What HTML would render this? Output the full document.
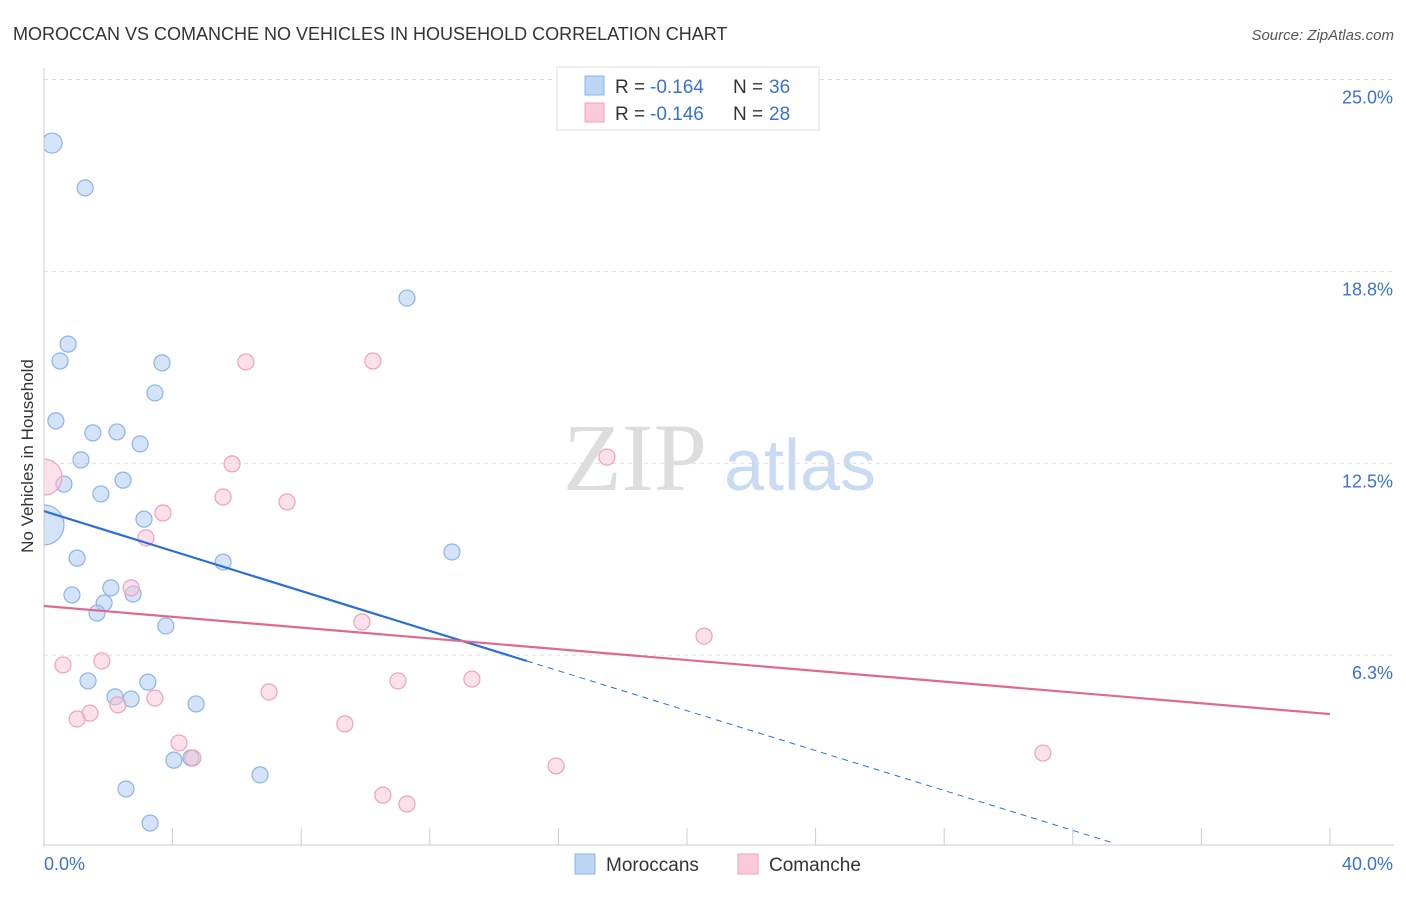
<!DOCTYPE html>
<html><head><meta charset="utf-8"><style>
body{margin:0;background:#fff;font-family:"Liberation Sans",sans-serif;}
</style></head><body>
<svg width="1406" height="892" xmlns="http://www.w3.org/2000/svg" id="chart" font-family="Liberation Sans, sans-serif">
<defs><clipPath id="plotclip"><rect x="44" y="60" width="1360" height="790"/></clipPath></defs>
<text x="13" y="40" font-size="18" fill="#333">MOROCCAN VS COMANCHE NO VEHICLES IN HOUSEHOLD CORRELATION CHART</text>
<text x="1394" y="40" font-size="15" fill="#555" text-anchor="end" font-style="italic">Source: ZipAtlas.com</text>
<text transform="translate(33,456) rotate(-90)" font-size="17" fill="#333" text-anchor="middle">No Vehicles in Household</text>
<g><text x="635" y="490" font-size="96" fill="#ddd" font-family="Liberation Serif, serif" text-anchor="middle">ZIP</text><text x="800" y="490" font-size="72" fill="#c8dbf2" text-anchor="middle">atlas</text></g>
<g id="grid"></g><g id="axes"></g><g id="marks" clip-path="url(#plotclip)"></g>
<g>
<rect x="557" y="67" width="262" height="63" fill="#fff" stroke="#ddd"/>
<rect x="585" y="76" width="19" height="19" fill="#bcd5f5" stroke="#8ab4e8"/>
<rect x="585" y="103" width="19" height="19" fill="#fbcad9" stroke="#f0a0bc"/>
<text x="615" y="93" font-size="19" fill="#333">R =</text>
<text x="650" y="93" font-size="19" fill="#3a72d0">-0.164</text>
<text x="733" y="93" font-size="19" fill="#333">N =</text>
<text x="769" y="93" font-size="19" fill="#3a72d0">36</text>
<text x="615" y="120" font-size="19" fill="#333">R =</text>
<text x="650" y="120" font-size="19" fill="#3a72d0">-0.146</text>
<text x="733" y="120" font-size="19" fill="#333">N =</text>
<text x="769" y="120" font-size="19" fill="#3a72d0">28</text>
</g>
<g>
<rect x="575" y="854" width="20" height="20" fill="#bcd5f5" stroke="#8ab4e8"/>
<text x="606" y="871" font-size="19" fill="#333">Moroccans</text>
<rect x="738" y="854" width="20" height="20" fill="#fbcad9" stroke="#f0a0bc"/>
<text x="769" y="871" font-size="19" fill="#333">Comanche</text>
</g>
</svg>
<script>
const yTicks=[6.3,12.5,18.8,25.0];
const yTickVals=[6.25,12.5,18.75,25];
const blueX=[0.25,1.28,11.29,0.75,0.5,3.67,3.45,0.37,1.52,2.27,2.99,1.15,0.62,2.46,1.77,3.11,0,1.03,5.57,12.69,2.08,2.77,0.87,1.87,1.65,3.79,1.37,3.23,2.21,2.71,4.73,4.04,4.57,6.72,2.55,3.3];
const blueY=[22.93,21.47,17.88,16.38,15.83,15.77,14.79,13.88,13.49,13.52,13.13,12.61,11.82,11.95,11.5,10.68,10.49,9.41,9.28,9.61,8.44,8.24,8.21,7.95,7.62,7.2,5.41,5.37,4.89,4.82,4.66,2.83,2.9,2.35,1.89,0.78];
const blueR=[10,8,8,8,8,8,8,8,8,8,8,8,8,8,8,8,20,8,8,8,8,8,8,8,8,8,8,8,8,8,8,8,8,8,8,8];
const pinkX=[0,6.28,10.23,5.85,5.57,7.56,17.51,3.7,3.17,2.71,9.89,20.53,0.59,1.8,7.0,11.01,13.31,1.43,1.03,2.3,3.45,9.36,4.2,4.63,15.93,31.07,10.54,11.29];
const pinkY=[12.05,15.8,15.83,12.48,11.4,11.24,12.7,10.88,10.07,8.44,7.33,6.87,5.93,6.06,5.05,5.41,5.47,4.36,4.17,4.63,4.85,4.01,3.39,2.9,2.64,3.06,1.69,1.4];
const pinkR=[18,8,8,8,8,8,8,8,8,8,8,8,8,8,8,8,8,8,8,8,8,8,8,8,8,8,8,8];
const blueTrend=[10.94,-0.325];
const pinkTrend=[7.85,-0.088];
const NS='http://www.w3.org/2000/svg';
const X=v=>44+v*32.15, Y=v=>847-v*30.7;
function mk(t,a,p){const e=document.createElementNS(NS,t);for(const k in a)e.setAttribute(k,a[k]);p.appendChild(e);return e;}
const grid=document.getElementById('grid'),axes=document.getElementById('axes'),marks=document.getElementById('marks');
yTickVals.forEach((v,i)=>{
 const l=mk('line',{x1:44,x2:1394,y1:Y(v),y2:Y(v),stroke:'#ddd','stroke-dasharray':'4,4'},grid);
 
 
 const t=mk('text',{x:1393,y:Y(v)+24,'font-size':18,fill:'#3a72d0','text-anchor':'end'},axes);
 t.textContent=yTicks[i].toFixed(1)+'%';
 
 
});
let ax=mk('line',{x1:44,x2:44,y1:68,y2:847,stroke:'#ccc'},axes);


ax=mk('line',{x1:44,x2:1394,y1:845,y2:845,stroke:'#ccc'},axes);


for(let i=1;i<=10;i++){const tk=mk('line',{x1:X(i*4),x2:X(i*4),y1:828,y2:845,stroke:'#ccc'},axes);
 
 }
let t=mk('text',{x:44,y:870,'font-size':18,fill:'#3a72d0'},axes);t.textContent='0.0%';


t=mk('text',{x:1393,y:870,'font-size':18,fill:'#3a72d0','text-anchor':'end'},axes);t.textContent='40.0%';


function dots(xs,ys,rs,fill,stroke,name){xs.forEach((x,i)=>{const c=mk('circle',{cx:X(x),cy:Y(ys[i]),r:rs[i],fill:fill,stroke:stroke,'stroke-width':1.2},marks);
 
 });}
dots(blueX,blueY,blueR,'rgba(170,200,240,0.5)','#8ab4e8','moroccan-point');
dots(pinkX,pinkY,pinkR,'rgba(250,195,215,0.5)','#f0a0bc','comanche-point');
let l=mk('line',{x1:X(0),y1:Y(blueTrend[0]),x2:X(15.02),y2:Y(blueTrend[0]+blueTrend[1]*15.02),stroke:'#2a6fd6','stroke-width':2.2},marks);


l=mk('line',{x1:X(15.02),y1:Y(blueTrend[0]+blueTrend[1]*15.02),x2:X(33.2),y2:Y(blueTrend[0]+blueTrend[1]*33.2),stroke:'#2a6fd6','stroke-width':1,'stroke-dasharray':'6,5'},marks);


l=mk('line',{x1:X(0),y1:Y(pinkTrend[0]),x2:X(40),y2:Y(pinkTrend[0]+pinkTrend[1]*40),stroke:'#e06890','stroke-width':2.2},marks);


</script>
</body></html>
